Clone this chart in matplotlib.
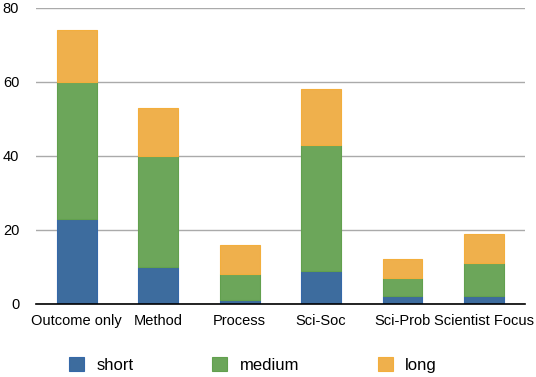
import matplotlib
matplotlib.use("Agg")
import matplotlib.pyplot as plt
import numpy as np

plt.rcParams['font.family'] = ['Liberation Sans', 'DejaVu Sans']

categories = ["Outcome only", "Method", "Process", "Sci-Soc", "Sci-Prob", "Scientist Focus"]
short = [23, 10, 1, 9, 2, 2]
medium = [37, 30, 7, 34, 5, 9]
long_ = [14, 13, 8, 15, 5, 8]

colors = {"short": "#3d6c9e", "medium": "#6ca65a", "long": "#efb04c"}
edges = {"short": "#3568a8", "medium": "#62a04e", "long": "#f3ae3c"}

fig = plt.figure(figsize=(5.36, 3.77), dpi=100)
ax = fig.add_axes([0.067, 0.194, 0.912, 0.785])

x = np.arange(len(categories))
bottom = np.zeros(len(categories))
for name, vals in [("short", short), ("medium", medium), ("long", long_)]:
    ax.bar(x, vals, width=0.49, bottom=bottom, color=colors[name],
           edgecolor=edges[name], linewidth=0.8, label=name, zorder=3)
    bottom += np.array(vals)

ax.set_xlim(-0.5, len(categories) - 0.5)
ax.set_ylim(0, 80)
ax.set_yticks([0, 20, 40, 60, 80])
ax.set_xticks(x)
ax.set_xticklabels(categories)
ax.yaxis.grid(True, color="#aaaaaa", linewidth=1)
ax.set_axisbelow(True)
for s in ["top", "right", "left"]:
    ax.spines[s].set_visible(False)
ax.spines["bottom"].set_color("black")
ax.spines["bottom"].set_linewidth(1.2)
ax.spines["bottom"].set_zorder(4)
ax.tick_params(axis="y", length=0, pad=12, labelsize=10.5)
ax.tick_params(axis="x", length=0, pad=7, labelsize=10.5)

fig.legend(loc="center", bbox_to_anchor=(0.472, 0.032), ncol=3, frameon=False,
           fontsize=12, handlelength=0.9, handleheight=0.9, columnspacing=4.7,
           handletextpad=0.75)

plt.savefig("out.png", dpi=100)
